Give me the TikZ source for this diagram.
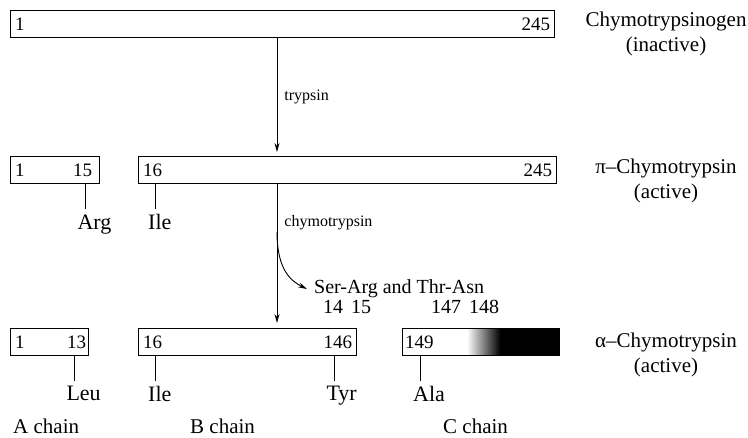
\documentclass[tikz,border=0pt]{standalone}
\usepackage{fontspec}
\setmainfont{Liberation Serif}
\usetikzlibrary{arrows.meta, positioning}

\begin{document}
\begin{tikzpicture}[x=1pt, y=-1pt,
    seg/.style={draw, line width=1.3pt, anchor=north west, minimum height=27pt, inner sep=0pt},
    darkend/.style={path picture={
        \foreach \k in {0,...,33} {
          \pgfmathtruncatemacro\tone{3*\k}
          \fill[black!\tone] ([xshift=64pt+\k pt]path picture bounding box.south west) rectangle ([xshift=65.3pt+\k pt]path picture bounding box.north west);
        }
        \fill[black] ([xshift=98pt]path picture bounding box.south west) rectangle (path picture bounding box.north east);}},
    num/.style={font=\fontsize{19}{19}\selectfont, inner sep=2pt},
    res/.style={font=\fontsize{22}{22}\selectfont, anchor=north west, inner sep=0pt},
    formname/.style={font=\fontsize{21}{25}\selectfont, align=center},
    enz/.style={font=\fontsize{16}{16}\selectfont, anchor=west, inner sep=0pt},
    cut/.style={line width=0.9pt},
    arrow/.style={-{Stealth[length=9pt, width=5pt]}, line width=0.9pt}
  ]
    \useasboundingbox (0,0) rectangle (748,438);

    \node[seg, minimum width=544pt] (zym) at (10,10) {};
    \node[num, anchor=west, xshift=3pt] (zym1) at (zym.west) {1};
    \node[num, anchor=east, xshift=-3pt] (zym245) at (zym.east) {245};
    \node[formname] (zymname) at (666,34) {Chymotrypsinogen\\(inactive)};

    \node[seg, minimum width=89pt] (piA) at (10,156) {};
    \node[seg, minimum width=418pt] (piB) at (138,156) {};
    \node[num, anchor=west, xshift=3pt] (piA1) at (piA.west) {1};
    \node[num, anchor=east, xshift=-6pt] (piA15) at (piA.east) {15};
    \node[num, anchor=west, xshift=3pt] (piB16) at (piB.west) {16};
    \node[num, anchor=east, xshift=-3pt] (piB245) at (piB.east) {245};
    \node[formname] (piname) at (666,181) {π–Chymotrypsin\\(active)};

    \node[seg, minimum width=78pt] (alA) at (10,328) {};
    \node[seg, minimum width=218pt] (alB) at (138,328) {};
    \node[seg, darkend, minimum width=157pt] (alC) at (402,328) {};
    \node[num, anchor=west, xshift=3pt] (alA1) at (alA.west) {1};
    \node[num, anchor=east, xshift=-1pt] (alA13) at (alA.east) {13};
    \node[num, anchor=west, xshift=3pt] (alB16) at (alB.west) {16};
    \node[num, anchor=east, xshift=-3pt] (alB146) at (alB.east) {146};
    \node[num, anchor=west, xshift=1pt] (alC149) at (alC.west) {149};
    \node[formname] (alname) at (666,355) {α–Chymotrypsin\\(active)};

    \coordinate (argtop) at ([xshift=-15pt]piA.south east);
    \coordinate (ile1top) at ([xshift=17pt]piB.south west);
    \coordinate (leutop) at ([xshift=-15pt]alA.south east);
    \coordinate (ile2top) at ([xshift=17pt]alB.south west);
    \coordinate (tyrtop) at ([xshift=-23pt]alB.south east);
    \coordinate (alatop) at ([xshift=18pt]alC.south west);
    \draw[cut] (argtop) -- ++(0,25) coordinate (argbot);
    \draw[cut] (ile1top) -- ++(0,25) coordinate (ile1bot);
    \draw[cut] (leutop) -- ++(0,25) coordinate (leubot);
    \draw[cut] (ile2top) -- ++(0,25) coordinate (ile2bot);
    \draw[cut] (tyrtop) -- ++(0,25) coordinate (tyrbot);
    \draw[cut] (alatop) -- ++(0,25) coordinate (alabot);
    \node[res] (arg) at ([xshift=-8pt, yshift=-5pt]argbot) {Arg};
    \node[res] (ile1) at ([xshift=-7pt, yshift=-5pt]ile1bot) {Ile};
    \node[res] (leu) at ([xshift=-8pt, yshift=-5pt]leubot) {Leu};
    \node[res] (ile2) at ([xshift=-7pt, yshift=-5pt]ile2bot) {Ile};
    \node[res] (tyr) at ([xshift=-8pt, yshift=-5pt]tyrbot) {Tyr};
    \node[res] (ala) at ([xshift=-7pt, yshift=-5pt]alabot) {Ala};

    \coordinate (split) at (277,0);
    \draw[arrow, shorten >=4pt] (zym.south -| split) -- (piB.north -| split)
      node[enz, pos=0.5, xshift=7pt] (trypsin) {trypsin};
    \draw[arrow, shorten >=5pt] (piB.south -| split) -- (alB.north -| split)
      node[enz, pos=0.27, xshift=7pt] (chymo) {chymotrypsin};

    \node[num, font=\fontsize{20}{20}\selectfont, anchor=west, inner sep=0pt] (peptides) at (314,289) {Ser-Arg and Thr-Asn};
    \node[num, font=\fontsize{20}{20}\selectfont, inner sep=0pt] (n14) at (333,307) {14};
    \node[num, font=\fontsize{20}{20}\selectfont, inner sep=0pt] (n15) at (361,307) {15};
    \node[num, font=\fontsize{20}{20}\selectfont, inner sep=0pt] (n147) at (446,307) {147};
    \node[num, font=\fontsize{20}{20}\selectfont, inner sep=0pt] (n148) at (484,307) {148};
    \coordinate (branch) at (277,232);
    \draw[arrow] (branch) .. controls +(0,38) and +(-16,-8) .. ([xshift=-7pt]peptides.west);

    \node[res, font=\fontsize{21}{21}\selectfont] (achain) at (13,419) {A chain};
    \node[res, font=\fontsize{21}{21}\selectfont] (bchain) at (190,419) {B chain};
    \node[res, font=\fontsize{21}{21}\selectfont] (cchain) at (443,419) {C chain};
  \end{tikzpicture}
\end{document}
